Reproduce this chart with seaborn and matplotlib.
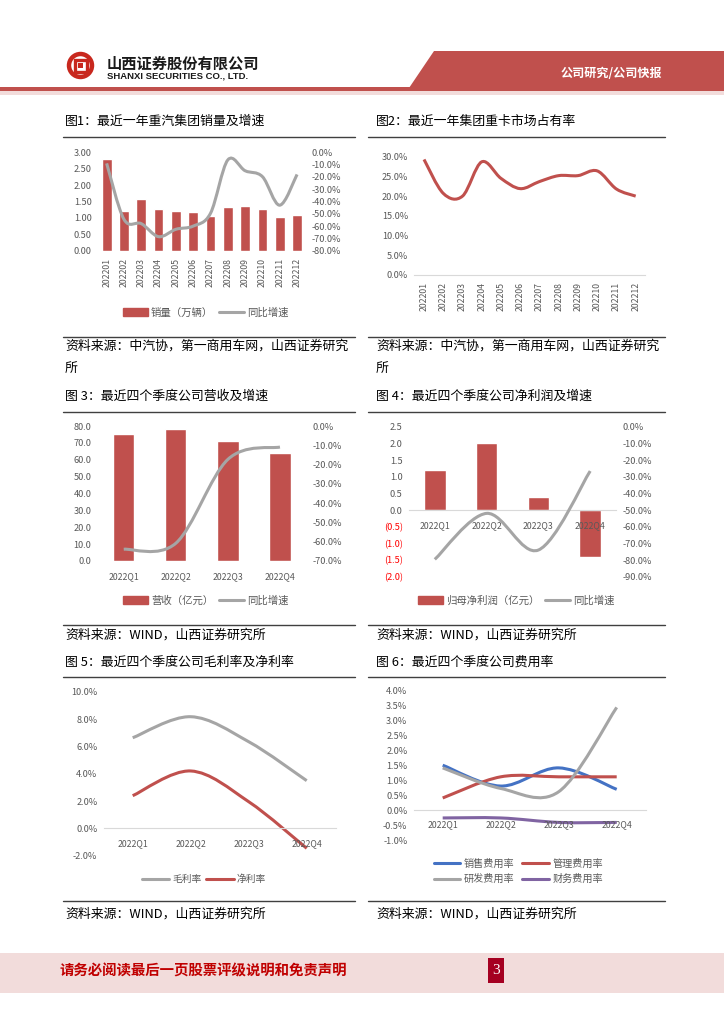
import numpy as np
import matplotlib
matplotlib.use('Agg')
import matplotlib.pyplot as plt
from matplotlib.path import Path
from matplotlib.patches import PathPatch, Rectangle, Polygon, Circle
from matplotlib.lines import Line2D
import seaborn as sns

# ---- data ----
months = ['202201', '202202', '202203', '202204', '202205', '202206',
          '202207', '202208', '202209', '202210', '202211', '202212']
sales = [2.80, 1.21, 1.57, 1.27, 1.21, 1.18, 1.06, 1.32, 1.37, 1.27, 1.03, 1.08]
sales_yoy = [-0.09, -0.545, -0.58, -0.686, -0.626, -0.60, -0.496, -0.062,
             -0.15, -0.198, -0.43, -0.18]
share = [0.293, 0.207, 0.200, 0.287, 0.245, 0.219, 0.237, 0.252, 0.252,
         0.264, 0.218, 0.200]

quarters = ['2022Q1', '2022Q2', '2022Q3', '2022Q4']
revenue = [75.3, 78.2, 71.1, 63.8]
revenue_yoy = [-0.639, -0.608, -0.173, -0.109]
profit = [1.20, 2.00, 0.39, -1.42]
profit_yoy = [-0.796, -0.52, -0.74, -0.266]
gross_margin = [0.0663, 0.0817, 0.0634, 0.0349]
net_margin = [0.0239, 0.0420, 0.0195, -0.0146]
sell_rate = [0.0151, 0.0081, 0.0142, 0.0070]
admin_rate = [0.0041, 0.0112, 0.0112, 0.0112]
rd_rate = [0.0142, 0.0073, 0.0062, 0.0345]
fin_rate = [-0.0026, -0.0026, -0.0041, -0.0041]

RED = '#C0504D'
GRAY = '#A5A5A5'
BLUE = '#4472C4'
PURPLE = '#8064A2'
TXT = '#595959'

sns.set_theme(style='white')
plt.rcParams['font.family'] = ['Noto Sans CJK SC', 'DejaVu Sans']
plt.rcParams['axes.unicode_minus'] = False

W, H = 724, 1024
fig = plt.figure(figsize=(7.24, 10.24), dpi=100)

# page decoration layer (pixel coordinates)
deco = fig.add_axes([0, 0, 1, 1])
deco.set_xlim(0, W)
deco.set_ylim(H, 0)
deco.axis('off')


def add_ax(l, t, r, b):
    return fig.add_axes([l / W, 1 - b / H, (r - l) / W, (b - t) / H])


def style(ax, pad=4.5):
    for s in ax.spines.values():
        s.set_visible(False)
    ax.set_axisbelow(False)
    ax.tick_params(length=0, labelsize=6.6, labelcolor=TXT, pad=pad)
    ax.tick_params(axis='x', labelsize=6.3)
    ax.set_xlabel('')
    ax.set_ylabel('')
    ax.patch.set_alpha(0)
    ax.grid(False)


def pct(v):
    v = 0.0 if abs(v) < 1e-9 else v
    return f'{v * 100:.1f}%'


def smooth_line(ax, y, color, lw=2.2):
    # excel-style smoothed line: cubic bezier through the data points
    pts = np.column_stack([np.arange(len(y), dtype=float), y])
    n = len(pts)
    verts, codes = [pts[0]], [Path.MOVETO]
    for i in range(n - 1):
        p0, p1 = pts[max(i - 1, 0)], pts[i]
        p2, p3 = pts[i + 1], pts[min(i + 2, n - 1)]
        verts += [p1 + (p2 - p0) / 6, p2 - (p3 - p1) / 6, p2]
        codes += [Path.CURVE4] * 3
    ax.add_patch(PathPatch(Path(verts, codes), fill=False, edgecolor=color,
                           lw=lw, capstyle='butt', joinstyle='round'))


def zero_axis(ax, pad=8):
    ax.spines['bottom'].set_visible(True)
    ax.spines['bottom'].set_position(('data', 0))
    ax.spines['bottom'].set_color('#D9D9D9')
    ax.spines['bottom'].set_linewidth(0.8)
    ax.tick_params(axis='x', pad=pad)


def legend(handles, labels, cx, cy, fs=7.5, hl=2.4, ncol=2, cs=0.6, tp=0.3, ls=0.5):
    fig.legend(handles, labels, loc='center', bbox_to_anchor=(cx / W, 1 - cy / H),
               ncol=ncol, frameon=False, fontsize=fs, handlelength=hl,
               handleheight=0.8, handletextpad=tp, columnspacing=cs,
               labelspacing=ls, labelcolor=TXT, borderpad=0)


def bar_h():
    return Rectangle((0, 0), 1, 1, color=RED)


def line_h(c):
    return Line2D([], [], color=c, lw=2.2)


# ---- chart 1: sales and yoy ----
ax1 = add_ax(98, 152.3, 305.7, 250.7)
sns.barplot(x=months, y=sales, color=RED, saturation=1, width=0.56, ax=ax1)
style(ax1)
ax1.set_xlim(-0.5, 11.5)
ax1.set_ylim(0, 3)
t = np.arange(0, 3.01, 0.5)
ax1.set_yticks(t, [f'{v:.2f}' for v in t])
ax1.tick_params(axis='x', rotation=90, pad=5)
ax1b = ax1.twinx()
style(ax1b)
smooth_line(ax1b, sales_yoy, GRAY)
ax1b.set_ylim(-0.8, 0)
t = np.linspace(-0.8, 0, 9)
ax1b.set_yticks(t, [pct(v) for v in t])
legend([bar_h(), line_h(GRAY)], ['销量（万辆）', '同比增速'], 205.9, 312.7)

# ---- chart 2: market share ----
ax2 = add_ax(414.4, 156.7, 645.3, 275)
style(ax2)
smooth_line(ax2, share, RED)
ax2.set_xlim(-0.5, 11.5)
ax2.set_ylim(0, 0.30)
ax2.set_xticks(range(len(months)), months)
t = np.linspace(0, 0.30, 7)
ax2.set_yticks(t, [pct(v) for v in t])
ax2.spines['bottom'].set_visible(True)
ax2.spines['bottom'].set_color('#D9D9D9')
ax2.spines['bottom'].set_linewidth(0.8)
ax2.tick_params(axis='x', rotation=90, pad=5)

# ---- chart 3: revenue ----
ax3 = add_ax(97.7, 426, 306, 561)
sns.barplot(x=quarters, y=revenue, color=RED, saturation=1, width=0.41, ax=ax3)
style(ax3)
ax3.set_xlim(-0.5, 3.5)
ax3.set_ylim(0, 80)
t = np.arange(0, 80.1, 10)
ax3.set_yticks(t, [f'{v:.1f}' for v in t])
ax3.tick_params(axis='x', pad=8)
ax3b = ax3.twinx()
style(ax3b)
smooth_line(ax3b, revenue_yoy, GRAY)
ax3b.set_ylim(-0.7, 0)
t = np.linspace(-0.7, 0, 8)
ax3b.set_yticks(t, [pct(v) for v in t])
legend([bar_h(), line_h(GRAY)], ['营收（亿元）', '同比增速'], 205.9, 600.7)

# ---- chart 4: net profit ----
ax4 = add_ax(408.9, 426.7, 616.1, 576.7)
sns.barplot(x=quarters, y=profit, color=RED, saturation=1, width=0.42, ax=ax4)
style(ax4)
ax4.set_xlim(-0.5, 3.5)
ax4.set_ylim(-2.0, 2.5)
t = np.arange(-2.0, 2.51, 0.5)
ax4.set_yticks(t, [f'{v:.1f}' if v > -1e-9 else f'({-v:.1f})' for v in t])
for v, lab in zip(t, ax4.get_yticklabels()):
    if v < -1e-9:
        lab.set_color('#FF0000')
zero_axis(ax4)
ax4b = ax4.twinx()
style(ax4b)
smooth_line(ax4b, profit_yoy, GRAY)
ax4b.set_ylim(-0.9, 0)
t = np.linspace(-0.9, 0, 10)
ax4b.set_yticks(t, [pct(v) for v in t])
legend([bar_h(), line_h(GRAY)], ['归母净利润（亿元）', '同比增速'], 516.3, 600.7)

# ---- chart 5: margins ----
ax5 = add_ax(103.7, 691.7, 335.7, 855.7)
style(ax5)
smooth_line(ax5, gross_margin, GRAY)
smooth_line(ax5, net_margin, RED)
ax5.set_xlim(-0.5, 3.5)
ax5.set_ylim(-0.02, 0.10)
ax5.set_xticks(range(4), quarters)
t = np.linspace(-0.02, 0.10, 7)
ax5.set_yticks(t, [pct(v) for v in t])
zero_axis(ax5)
legend([line_h(GRAY), line_h(RED)], ['毛利率', '净利率'], 204, 879.3,
       fs=7, hl=2.8, cs=0.5, tp=0.3)

# ---- chart 6: expense ratios ----
ax6 = add_ax(413.7, 691, 645.7, 840)
style(ax6)
smooth_line(ax6, sell_rate, BLUE)
smooth_line(ax6, admin_rate, RED)
smooth_line(ax6, rd_rate, GRAY)
smooth_line(ax6, fin_rate, PURPLE)
ax6.set_xlim(-0.5, 3.5)
ax6.set_ylim(-0.01, 0.04)
ax6.set_xticks(range(4), quarters)
t = np.linspace(-0.01, 0.04, 11)
ax6.set_yticks(t, [pct(v) for v in t])
zero_axis(ax6, pad=7.5)
legend([line_h(BLUE), line_h(GRAY), line_h(RED), line_h(PURPLE)],
       ['销售费用率', '研发费用率', '管理费用率', '财务费用率'], 518.2, 871.3,
       fs=7.3, hl=2.65, cs=0.8, tp=0.3, ls=0.55)

# ---- page header ----
deco.add_patch(Polygon([(434, 50.7), (W, 50.7), (W, 88), (408.6, 88)],
                       closed=True, color=RED, lw=0))
deco.add_patch(Rectangle((0, 87), W, 4, color=RED, lw=0))
deco.add_patch(Rectangle((0, 91), W, 4, color='#F2DCDB', lw=0))
deco.text(611, 73.3, '公司研究/公司快报', color='white', fontsize=8.7,
          fontweight='bold', ha='center', va='center')
LOGO = '#C8281E'
deco.add_patch(Circle((80.5, 65.5), 11.5, fill=False, ec=LOGO, lw=3.2))
deco.add_patch(Rectangle((74.5, 59.5), 12, 12, fill=False, ec=LOGO, lw=2.4))
deco.add_patch(Rectangle((78.3, 63.3), 4.4, 4.4, color=LOGO, lw=0))
deco.text(106.7, 64, '山西证券股份有限公司', fontsize=11, fontweight='bold',
          color='#1A1A1A', ha='left', va='center')
deco.text(106.7, 76.5, 'SHANXI SECURITIES CO., LTD.', fontsize=6.8,
          fontweight='bold', family='Liberation Sans', color='#1A1A1A',
          ha='left', va='center')

# ---- captions, rules, sources ----
CAP = 9.3
caps = [(65, 121.5, '图1：最近一年重汽集团销量及增速'),
        (376, 121.5, '图2：最近一年集团重卡市场占有率'),
        (65, 396, '图 3：最近四个季度公司营收及增速'),
        (376, 396, '图 4：最近四个季度公司净利润及增速'),
        (65, 662, '图 5：最近四个季度公司毛利率及净利率'),
        (376, 662, '图 6：最近四个季度公司费用率')]
for x, y, s in caps:
    deco.text(x, y, s, fontsize=CAP, color='black', ha='left', va='center')

for y in [136.7, 337, 412, 624.5, 677, 901]:
    deco.plot([63, 355], [y, y], color='#404040', lw=1)
    deco.plot([368, 665], [y, y], color='#404040', lw=1)

srcs = [(65, 346, '资料来源：中汽协，第一商用车网，山西证券研究'),
        (376, 346, '资料来源：中汽协，第一商用车网，山西证券研究'),
        (65, 369, '所'), (376, 369, '所'),
        (65, 635, '资料来源：WIND，山西证券研究所'),
        (376, 635, '资料来源：WIND，山西证券研究所'),
        (65, 914, '资料来源：WIND，山西证券研究所'),
        (376, 914, '资料来源：WIND，山西证券研究所')]
for x, y, s in srcs:
    deco.text(x, y, s, fontsize=CAP, color='black', ha='left', va='center')

# ---- footer ----
deco.add_patch(Rectangle((0, 952.7), W, 40, color='#F2DCDB', lw=0))
deco.text(60, 971.7, '请务必阅读最后一页股票评级说明和免责声明', fontsize=10.4,
          fontweight='bold', color='#C00000', ha='left', va='center')
deco.add_patch(Rectangle((488, 958.3), 15.7, 24.4, color='#A50021', lw=0))
deco.text(495.9, 970.8, '3', fontsize=11, color='white', family='Liberation Serif',
          ha='center', va='center')

plt.savefig('out.png', dpi=100)
